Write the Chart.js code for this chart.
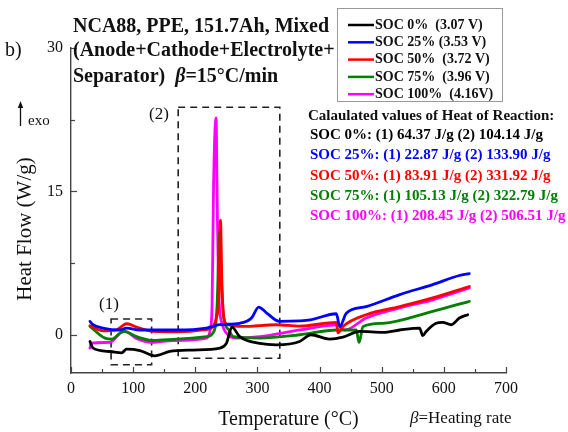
<!DOCTYPE html>
<html>
<head>
<meta charset="utf-8">
<script src="https://cdn.jsdelivr.net/npm/chart.js@4.4.0/dist/chart.umd.min.js"></script>
<style>
    html, body { margin: 0; padding: 0; background: #fff; }
    #wrap { width: 568px; height: 432px; }
</style>
</head>
<body>
<div id="wrap"><canvas id="dscChart" width="568" height="432"></canvas></div>
<script>
// Dati DSC (temperatura in °C, flusso termico in W/g)
const soc0Temp = [30.5, 35.5, 62.7, 81.5, 89.5, 111, 135, 159, 196.5, 239.5, 250, 259, 271.5, 304, 330.5, 368, 386, 416, 437.5, 464.5, 502, 529, 561, 566, 571.5, 587.5, 598, 612, 625, 638.5];
const soc0Heat = [-0.7, -1.4, -1.75, -1.9, -1.5, -1.65, -2.2, -1.75, -1.6, -1.4, -0.9, 0.8, -0.2, -0.9, -1.05, -0.7, 0, -0.45, -0.25, 0.35, 0.25, 0.5, 0.7, -0.1, 0.35, 1.2, 1.3, 1.05, 1.75, 2.1];

const soc25Temp = [30.5, 35.5, 51, 78.5, 89.5, 111, 170, 218, 239.5, 271.5, 290.5, 302, 314.5, 335.5, 368, 385, 427, 432.5, 443, 475, 529, 582, 625, 641];
const soc25Heat = [1.4, 1.05, 0.7, 0.5, 0.7, 0.5, 0.5, 0.7, 1.05, 1.2, 1.75, 2.9, 2.3, 1.4, 1.45, 1.55, 2.2, 0.85, 2.25, 2.95, 4.2, 5.25, 6.2, 6.4];

const soc50Temp = [30.5, 52, 73.5, 84, 89.5, 108, 132, 170, 212.5, 228.5, 234, 238, 240.5, 243, 246, 251, 277, 330.5, 368, 427, 429.5, 437.5, 475, 529, 582, 641];
const soc50Heat = [0.95, 0.4, 0.5, 1.0, 1.15, 0.75, 0.35, 0.3, 0.5, 0.87, 1.8, 4, 12, 5, 1.8, 1.1, 0.87, 1.05, 0.9, 1.3, 0.2, 0.87, 2.1, 2.95, 3.85, 5.05];

const soc75Temp = [30.5, 54.7, 66, 79, 85, 105.5, 132, 170, 218, 228.5, 235, 237.5, 239, 241.5, 245.5, 254, 261, 304, 368, 427, 459, 463.5, 470, 502, 582, 641];
const soc75Heat = [0.87, -0.35, -0.45, 0.17, 0.35, -0.2, -0.6, -0.45, -0.2, 0.2, 3.0, 8.2, 10.7, 6.5, 1.9, 0.5, -0.2, -0.35, 0, 0.5, 0.5, -0.8, 0.87, 1.2, 2.45, 3.5];

const soc100Temp = [30.5, 33, 62.7, 79, 87, 105.5, 130, 164, 218, 224, 227, 229.5, 233.5, 235, 237.5, 243, 253, 266, 304, 368, 430, 440.5, 475, 529, 582, 641];
const soc100Heat = [-1.4, -0.87, -0.8, 0.17, 0.35, -0.4, -0.8, -0.6, -0.35, 0.5, 3.0, 15.9, 22.7, 15.2, 4.7, 1.2, 0, -0.35, -0.2, 0.5, 1.05, 0.5, 1.75, 2.8, 3.65, 4.9];

const seriesLabels = ['SOC 0%  (3.07 V)', 'SOC 25% (3.53 V)', 'SOC 50%  (3.72 V)', 'SOC 75%  (3.96 V)', 'SOC 100%  (4.16V)'];
const seriesColors = ['#000000', '#0000ff', '#ff0000', '#008000', '#ff00ff'];

// Tacche degli assi
const xMajorTicks = [0, 100, 200, 300, 400, 500, 600, 700];
const xMinorTicks = [50, 150, 250, 350, 450, 550, 650];
const yMajorTicks = [0, 15, 30];
const yMinorTicks = [7.5, 22.5];

// Valori calcolati del calore di reazione
const reactionLines = [
    'SOC 0%: (1) 64.37 J/g (2) 104.14 J/g',
    'SOC 25%: (1) 22.87 J/g (2) 133.90 J/g',
    'SOC 50%: (1) 83.91 J/g (2) 331.92 J/g',
    'SOC 75%: (1) 105.13 J/g (2) 322.79 J/g',
    'SOC 100%: (1) 208.45 J/g (2) 506.51 J/g'
];

// Riquadri tratteggiati (1) e (2) in coordinate dati
const box1 = { x: [64.5, 129.7], y: [-3.14, 1.65] };
const box2 = { x: [172.5, 336], y: [-2.45, 23.8] };

const SERIF = "'Liberation Serif', 'Times New Roman', serif";

function toPoints(temps, heats) {
    return temps.map((t, i) => ({ x: t, y: heats[i] }));
}

// Scrive una riga composta da pezzi con font diversi
function drawRuns(ctx, x, y, runs) {
    runs.forEach(run => {
        ctx.font = run.font;
        ctx.fillText(run.text, x, y);
        x += ctx.measureText(run.text).width;
    });
}

const decorations = {
    id: 'decorations',
    beforeDatasetsDraw(chart) {
        const ctx = chart.ctx;
        const xs = chart.scales.x, ys = chart.scales.y;
        ctx.save();
        ctx.strokeStyle = '#222';
        ctx.lineWidth = 1.6;
        ctx.setLineDash([7, 5]);
        [box1, box2].forEach(b => {
            const l = xs.getPixelForValue(b.x[0]), r = xs.getPixelForValue(b.x[1]);
            const t = ys.getPixelForValue(b.y[1]), btm = ys.getPixelForValue(b.y[0]);
            ctx.strokeRect(l, t, r - l, btm - t);
        });
        ctx.restore();
    },
    afterDraw(chart) {
        const ctx = chart.ctx;
        const xs = chart.scales.x, ys = chart.scales.y;
        const area = chart.chartArea;
        ctx.save();

        // tacche interne
        ctx.strokeStyle = '#444';
        ctx.lineWidth = 1.2;
        const tickX = (vals, len) => vals.forEach(v => {
            const px = Math.round(xs.getPixelForValue(v)) + 0.5;
            ctx.beginPath(); ctx.moveTo(px, area.bottom); ctx.lineTo(px, area.bottom - len); ctx.stroke();
        });
        const tickY = (vals, len) => vals.forEach(v => {
            const py = Math.round(ys.getPixelForValue(v)) + 0.5;
            ctx.beginPath(); ctx.moveTo(area.left, py); ctx.lineTo(area.left + len, py); ctx.stroke();
        });
        tickX(xMajorTicks, 6); tickX(xMinorTicks, 4);
        tickY(yMajorTicks, 6); tickY(yMinorTicks, 4);

        ctx.fillStyle = '#111';
        ctx.textBaseline = 'middle';
        ctx.textAlign = 'left';

        // titolo
        ctx.font = 'bold 20px ' + SERIF;
        ctx.fillText('NCA88, PPE, 151.7Ah, Mixed', 73, 27);
        ctx.fillText('(Anode+Cathode+Electrolyte+', 73, 51);
        drawRuns(ctx, 73, 77, [
            { text: 'Separator)  ', font: 'bold 20px ' + SERIF },
            { text: 'β', font: 'italic bold 20px ' + SERIF },
            { text: '=15°C/min', font: 'bold 20px ' + SERIF }
        ]);

        ctx.font = '20px ' + SERIF;
        ctx.fillText('b)', 5, 51);

        // etichetta asse y
        ctx.save();
        ctx.translate(25, 229);
        ctx.rotate(-Math.PI / 2);
        ctx.textAlign = 'center';
        ctx.font = '21px ' + SERIF;
        ctx.fillText('Heat Flow (W/g)', 0, 0);
        ctx.restore();

        // freccia exo
        ctx.strokeStyle = '#111';
        ctx.lineWidth = 1.3;
        ctx.beginPath(); ctx.moveTo(20.5, 126); ctx.lineTo(20.5, 106); ctx.stroke();
        ctx.beginPath(); ctx.moveTo(20.5, 101); ctx.lineTo(17.8, 108); ctx.lineTo(23.2, 108); ctx.closePath(); ctx.fill();
        ctx.font = '15px ' + SERIF;
        ctx.fillText('exo', 28, 121);

        // etichette riquadri
        ctx.textAlign = 'center';
        ctx.font = '17px ' + SERIF;
        ctx.fillText('(1)', 109, 305);
        ctx.fillText('(2)', 159, 115);
        ctx.textAlign = 'left';

        drawRuns(ctx, 410, 419, [
            { text: 'β', font: 'italic 17px ' + SERIF },
            { text: '=Heating rate', font: '17px ' + SERIF }
        ]);

        // legenda
        ctx.fillStyle = '#fff';
        ctx.fillRect(337, 8, 165, 93);
        ctx.strokeStyle = '#999';
        ctx.lineWidth = 1;
        ctx.strokeRect(337.5, 8.5, 165, 93);
        ctx.font = 'bold 14px ' + SERIF;
        chart.data.datasets.forEach((ds, i) => {
            const y = 25 + i * 17.3;
            ctx.strokeStyle = ds.borderColor;
            ctx.lineWidth = 2.5;
            ctx.beginPath(); ctx.moveTo(348, y); ctx.lineTo(374, y); ctx.stroke();
            ctx.fillStyle = '#111';
            ctx.fillText(ds.label, 375, y);
        });

        // calore di reazione
        ctx.font = 'bold 15px ' + SERIF;
        ctx.fillStyle = '#111';
        ctx.fillText('Calaulated values of Heat of Reaction:', 308, 116);
        const rowsY = [135, 155.5, 176, 196, 216];
        reactionLines.forEach((line, i) => {
            ctx.fillStyle = seriesColors[i];
            ctx.fillText(line, 310, rowsY[i]);
        });

        ctx.restore();
    }
};

const seriesData = [
    toPoints(soc0Temp, soc0Heat),
    toPoints(soc25Temp, soc25Heat),
    toPoints(soc50Temp, soc50Heat),
    toPoints(soc75Temp, soc75Heat),
    toPoints(soc100Temp, soc100Heat)
];

const ctx = document.getElementById('dscChart');
new Chart(ctx, {
    type: 'line',
    data: {
        datasets: seriesData.map((pts, i) => ({
            label: seriesLabels[i],
            data: pts,
            borderColor: seriesColors[i],
            backgroundColor: seriesColors[i],
            borderWidth: 2.8,
            pointRadius: 0,
            fill: false,
            cubicInterpolationMode: 'monotone',
            borderJoinStyle: 'round',
            borderCapStyle: 'round'
        }))
    },
    options: {
        responsive: false,
        animation: false,
        devicePixelRatio: 1,
        layout: { padding: { left: 0, top: 48, right: 62, bottom: 0 } },
        plugins: {
            legend: { display: false },
            tooltip: { enabled: false }
        },
        scales: {
            x: {
                type: 'linear',
                min: 0,
                max: 700,
                afterBuildTicks: s => { s.ticks = xMajorTicks.map(v => ({ value: v })); },
                afterFit: s => { s.height = 59; },
                ticks: {
                    padding: 6,
                    maxRotation: 0,
                    color: '#111',
                    font: { family: SERIF, size: 16 }
                },
                grid: { drawOnChartArea: false, drawTicks: false },
                border: { display: true, color: '#444', width: 1.4 },
                title: {
                    display: true,
                    text: 'Temperature (°C)',
                    color: '#111',
                    font: { family: SERIF, size: 20 },
                    padding: { top: 0, bottom: 0 }
                }
            },
            y: {
                type: 'linear',
                min: -4,
                max: 30,
                afterBuildTicks: s => { s.ticks = yMajorTicks.map(v => ({ value: v })); },
                afterFit: s => { s.width = 71; },
                ticks: {
                    padding: 8,
                    color: '#111',
                    font: { family: SERIF, size: 16 }
                },
                grid: { drawOnChartArea: false, drawTicks: false },
                border: { display: true, color: '#444', width: 1.4 }
            }
        }
    },
    plugins: [decorations]
});
</script>
</body>
</html>
